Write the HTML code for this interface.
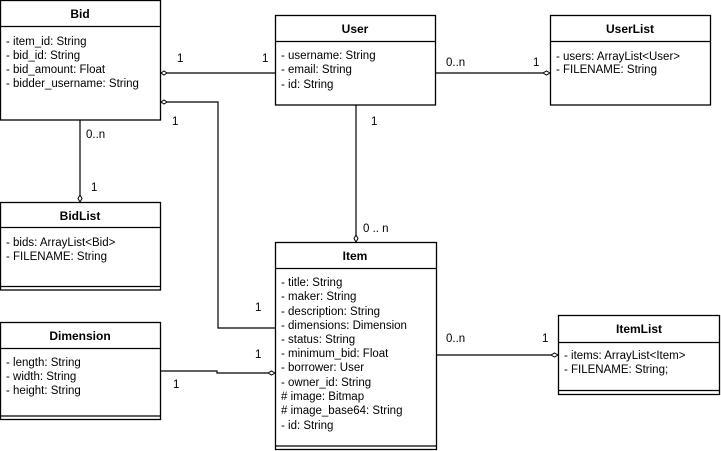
<!DOCTYPE html>
<html><head><meta charset="utf-8"><style>
html,body{margin:0;padding:0;background:#fff;}
svg{display:block;}
text{font-family:"Liberation Sans",Arial,sans-serif;font-size:11.5px;fill:#000;}
.h{font-weight:bold;font-size:12px;}
</style></head><body>
<svg width="721" height="451" viewBox="0 0 721 451" xmlns="http://www.w3.org/2000/svg">
<g fill="#fff" stroke="#000" stroke-width="1.3">
<rect x="0.5" y="0.5" width="160" height="119.5"/>
<line x1="0.5" y1="26.5" x2="160.5" y2="26.5"/>
<rect x="275.5" y="15.5" width="160" height="89.5"/>
<line x1="275.5" y1="41.5" x2="435.5" y2="41.5"/>
<rect x="550.5" y="15.5" width="160" height="89.5"/>
<line x1="550.5" y1="41.5" x2="710.5" y2="41.5"/>
<rect x="0.5" y="202.5" width="160" height="87.5"/>
<line x1="0.5" y1="227.5" x2="160.5" y2="227.5"/>
<line x1="0.5" y1="286.5" x2="160.5" y2="286.5"/>
<rect x="0.5" y="322.5" width="160" height="97"/>
<line x1="0.5" y1="348.5" x2="160.5" y2="348.5"/>
<line x1="0.5" y1="416" x2="160.5" y2="416"/>
<rect x="558.5" y="315.5" width="161" height="79"/>
<line x1="558.5" y1="342.5" x2="719.5" y2="342.5"/>
<line x1="558.5" y1="390.5" x2="719.5" y2="390.5"/>
<rect x="275.5" y="242.5" width="161" height="207"/>
<line x1="275.5" y1="268.5" x2="436.5" y2="268.5"/>
<line x1="275.5" y1="446" x2="436.5" y2="446"/>
</g>
<g fill="none" stroke="#000" stroke-width="1.2">
<polyline points="167,73 275,73"/>
<polyline points="167,102 218,102 218,328 275,328"/>
<polyline points="80,120 80,195"/>
<polyline points="356,105 356,235"/>
<polyline points="436,73 543,73"/>
<polyline points="160,371 217,371 217,373 268,373"/>
<polyline points="436,355 551,355"/>
</g>
<g fill="#fff" stroke="#000" stroke-width="1">
<polygon points="161,73 164,71 167,73 164,75"/>
<polygon points="161,102 164,100 167,102 164,104"/>
<polygon points="80,202 78,198.5 80,195 82,198.5"/>
<polygon points="356,242 354,238.5 356,235 358,238.5"/>
<polygon points="550,73 546.5,71 543,73 546.5,75"/>
<polygon points="275,373 271.5,371 268,373 271.5,375"/>
<polygon points="558,355 554.5,353 551,355 554.5,357"/>
</g>
<text class="h" x="80" y="18" text-anchor="middle">Bid</text>
<text x="6" y="45">- item_id: String</text>
<text x="6" y="59">- bid_id: String</text>
<text x="6" y="73">- bid_amount: Float</text>
<text x="6" y="87">- bidder_username: String</text>
<text class="h" x="355" y="33" text-anchor="middle">User</text>
<text x="281" y="59">- username: String</text>
<text x="281" y="73">- email: String</text>
<text x="281" y="88">- id: String</text>
<text class="h" x="630" y="33" text-anchor="middle">UserList</text>
<text x="556" y="60">- users: ArrayList&lt;User&gt;</text>
<text x="556" y="73">- FILENAME: String</text>
<text class="h" x="80" y="220" text-anchor="middle">BidList</text>
<text x="6" y="246">- bids: ArrayList&lt;Bid&gt;</text>
<text x="6" y="260">- FILENAME: String</text>
<text class="h" x="80" y="340" text-anchor="middle">Dimension</text>
<text x="6" y="366">- length: String</text>
<text x="6" y="380">- width: String</text>
<text x="6" y="394">- height: String</text>
<text class="h" x="639" y="333" text-anchor="middle">ItemList</text>
<text x="564" y="359">- items: ArrayList&lt;Item&gt;</text>
<text x="564" y="373">- FILENAME: String;</text>
<text class="h" x="355" y="260" text-anchor="middle">Item</text>
<text x="281" y="286">- title: String</text>
<text x="281" y="300">- maker: String</text>
<text x="281" y="315">- description: String</text>
<text x="281" y="329">- dimensions: Dimension</text>
<text x="281" y="343">- status: String</text>
<text x="281" y="357">- minimum_bid: Float</text>
<text x="281" y="371">- borrower: User</text>
<text x="281" y="386">- owner_id: String</text>
<text x="281" y="400"># image: Bitmap</text>
<text x="281" y="414"># image_base64: String</text>
<text x="281" y="429">- id: String</text>
<text x="177" y="62">1</text>
<text x="262" y="62">1</text>
<text x="172" y="125">1</text>
<text x="255" y="311">1</text>
<text x="86" y="138">0..n</text>
<text x="91" y="191">1</text>
<text x="371" y="125">1</text>
<text x="363" y="232">0 .. n</text>
<text x="446" y="66">0..n</text>
<text x="533" y="66">1</text>
<text x="173" y="388">1</text>
<text x="255" y="358">1</text>
<text x="446" y="342">0..n</text>
<text x="542" y="342">1</text>
</svg>
</body></html>
